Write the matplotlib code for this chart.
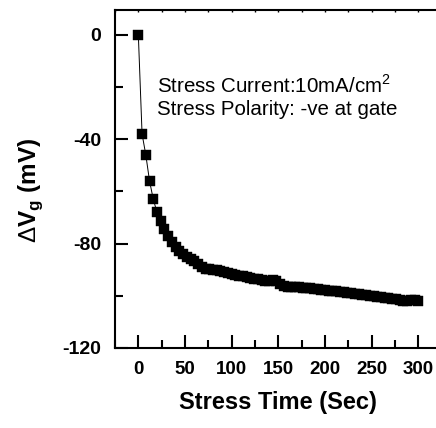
import matplotlib
matplotlib.use("Agg")
import matplotlib.pyplot as plt
from matplotlib.ticker import MultipleLocator

# Data
stress_time = list(range(0, 301, 4))
delta_vg = [0, -38, -46, -56, -63, -68, -71.5, -74.5, -77, -79.3,
            -81.2, -82.8, -84, -85, -85.8, -86.8, -87.8, -89, -89.6, -89.8,
            -90, -90.2, -90.6, -91, -91.2, -91.5, -91.9, -92.3, -92.6, -92.9,
            -93.2, -93.5, -93.7, -93.8, -94.2, -94.5, -94.1, -94.3, -95.5, -96.2,
            -96.6, -96.7, -96.8, -96.8, -96.9, -97, -97.1, -97.3, -97.5, -97.7,
            -97.8, -98, -98.2, -98.3, -98.5, -98.7, -98.9, -99.1, -99.3, -99.4,
            -99.6, -99.8, -100, -100.1, -100.3, -100.5, -100.7, -100.9, -101.1, -101.3,
            -101.6, -101.9, -101.9, -101.8, -101.5, -101.9]
x_ticks = [0, 50, 100, 150, 200, 250, 300]
y_ticks = [0, -40, -80, -120]
x_label = "Stress Time (Sec)"
y_label = r"$\Delta$V$_\mathregular{g}$ (mV)"
note_lines = [r"Stress Current:10mA/cm$^\mathregular{2}$", "Stress Polarity: -ve at gate"]

plt.rcParams['font.family'] = ['Liberation Sans', 'DejaVu Sans']
plt.rcParams['mathtext.fontset'] = 'custom'
plt.rcParams['mathtext.rm'] = 'Liberation Sans'
plt.rcParams['mathtext.bf'] = 'Liberation Sans:bold'
plt.rcParams['axes.unicode_minus'] = False

W, H = 436, 428
fig = plt.figure(figsize=(W / 100, H / 100), dpi=100)
left, right, top, bottom = 115, 437, 10, 348
ax = fig.add_axes([left / W, 1 - bottom / H, (right - left) / W, (bottom - top) / H])

ax.plot(stress_time, delta_vg, color='black', lw=0.7, marker='s', ms=6.6,
        mfc='black', mec='black', mew=0.3)

ax.set_xlim(-25, 320)
ax.set_ylim(-120, 9.5)
ax.set_xticks(x_ticks)
ax.set_yticks(y_ticks)
ax.xaxis.set_minor_locator(MultipleLocator(25))
ax.yaxis.set_minor_locator(MultipleLocator(20))

for s in ['left', 'bottom', 'top']:
    ax.spines[s].set_linewidth(1.5)
ax.spines['right'].set_visible(False)

ax.tick_params(axis='both', which='major', direction='in', length=9.5, width=1.5)
ax.tick_params(axis='both', which='minor', direction='in', length=5.5, width=1.5)
ax.tick_params(axis='y', which='major', pad=10, labelsize=14)
ax.tick_params(axis='x', which='major', pad=9, labelsize=13.5)
ax.tick_params(axis='x', which='both', top=True)
for lab in ax.get_xticklabels() + ax.get_yticklabels():
    lab.set_fontweight('bold')

# make top ticks tiny and faint
for tl in ax.xaxis.get_majorticklines()[1::2] + ax.xaxis.get_minorticklines()[1::2]:
    tl.set_markersize(1.5)
    tl.set_color('0.5')
    tl.set_markeredgewidth(1.0)

fig.text(278 / W, 1 - 402 / H, x_label, ha='center', va='center',
         fontsize=17, fontweight='bold')
fig.text(31 / W, 1 - 190 / H, y_label, ha='center', va='center', rotation=90,
         fontsize=17.5, fontweight='bold')

ax.text(19.7, -22.1, note_lines[0], ha='left', va='baseline', fontsize=14.8)
ax.text(19.7, -30.6, note_lines[1], ha='left', va='baseline', fontsize=14.8)

fig.savefig("out.png", dpi=100)
